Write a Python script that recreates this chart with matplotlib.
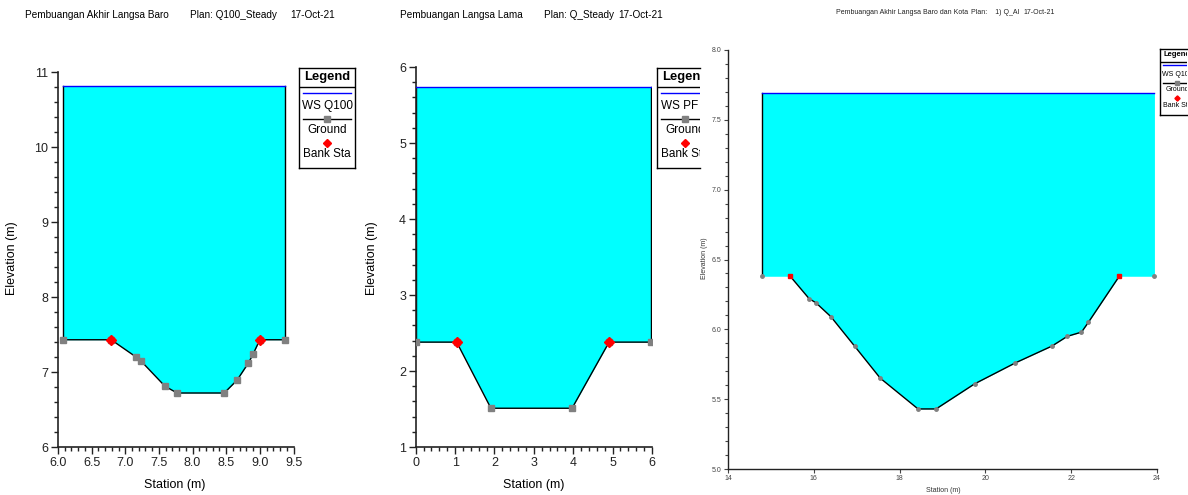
import matplotlib
matplotlib.use("Agg")
import matplotlib.pyplot as plt
from matplotlib.ticker import MultipleLocator, FormatStrFormatter

plt.rcParams['font.family'] = ['Liberation Sans', 'DejaVu Sans']

# ---------------- data ----------------
# Panel 1: Pembuangan Akhir Langsa Baro
sta1 = [6.08, 6.79, 7.16, 7.23, 7.59, 7.77, 8.47, 8.66, 8.83, 8.90, 9.00, 9.38]
gnd1 = [7.43, 7.43, 7.20, 7.15, 6.81, 6.72, 6.72, 6.89, 7.12, 7.24, 7.43, 7.43]
bank1 = [1, 10]
ws1 = 10.81

# Panel 2: Pembuangan Langsa Lama
sta2 = [0.0, 1.04, 1.91, 3.97, 4.91, 5.98]
gnd2 = [2.38, 2.38, 1.51, 1.51, 2.38, 2.38]
bank2 = [1, 4]
ws2 = 5.74

# Panel 3: Pembuangan Akhir Langsa Baro dan Kota
sta3 = [14.79, 15.45, 15.89, 16.05, 16.40, 16.95, 17.55, 18.43, 18.85,
        19.75, 20.70, 21.55, 21.91, 22.24, 22.40, 23.12, 23.94]
gnd3 = [6.38, 6.38, 6.22, 6.19, 6.09, 5.88, 5.65, 5.43, 5.43,
        5.61, 5.76, 5.88, 5.95, 5.98, 6.05, 6.38, 6.38]
bank3 = [1, 15]
ws3 = 7.69

# title pieces: (river/reach, plan, date)
titles = [("Pembuangan Akhir Langsa Baro", "Plan: Q100_Steady", "17-Oct-21"),
          ("Pembuangan Langsa Lama", "Plan: Q_Steady", "17-Oct-21"),
          ("Pembuangan Akhir Langsa Baro dan Kota", "Plan:    1) Q_Al", "17-Oct-21")]
ws_names = ["WS Q100", "WS PF 1", "WS Q100"]

W, H = 1188, 495
fig = plt.figure(figsize=(W / 100, H / 100), dpi=100)


def px_axes(x0, x1, y_top, y_bot):
    return fig.add_axes([x0 / W, 1 - y_bot / H, (x1 - x0) / W, (y_bot - y_top) / H])


def ftext(x, y, s, **kw):
    return fig.text(x / W, 1 - y / H, s, **kw)


def draw_section(ax, sta, gnd, bank, ws, big=True, left_edge_only=False):
    ax.fill_between(sta, gnd, ws, color='#00FFFF', lw=0, zorder=1)
    ax.plot([sta[0], sta[0]], [gnd[0], ws], color='black', lw=1.0, zorder=2)
    if not left_edge_only:
        ax.plot([sta[-1], sta[-1]], [gnd[-1], ws], color='black', lw=1.0, zorder=2)
    ax.plot([sta[0], sta[-1]], [ws, ws], color='#0000FF', lw=1.0, zorder=3)
    if big:
        ax.plot(sta, gnd, color='black', lw=1.0, zorder=4)
        ax.plot(sta, gnd, 's', color='#808080', ms=4.5, zorder=5)
        ax.plot([sta[i] for i in bank], [gnd[i] for i in bank], 'D',
                color='red', ms=5, zorder=6)
    else:
        b0, b1 = bank
        ax.plot(sta[b0:b1 + 1], gnd[b0:b1 + 1], color='black', lw=1.0, zorder=4)
        ax.plot(sta, gnd, 'o', color='#808080', ms=2.5, zorder=5)
        ax.plot([sta[i] for i in bank], [gnd[i] for i in bank], 's',
                color='red', ms=3, zorder=6)
    for s in ['top', 'right']:
        ax.spines[s].set_visible(False)
    for s in ['left', 'bottom']:
        ax.spines[s].set_linewidth(1.2)
        ax.spines[s].set_color('#222222')


def draw_legend(lax, ws_name, fs, full_w, vis_w=None):
    lax.set_xlim(0, full_w if vis_w is None else vis_w)
    lax.set_ylim(100, 0)
    lax.set_xticks([])
    lax.set_yticks([])
    for s in lax.spines.values():
        s.set_linewidth(1.0)
    if vis_w is not None:
        lax.spines['right'].set_visible(False)
    c = full_w / 2

    def txt(y, s, size, **kw):
        t = lax.text(c, y, s, ha='center', va='center', fontsize=size, clip_on=True, **kw)
        t.set_clip_path(lax.patch)

    txt(9, "Legend", fs * 1.1, fontweight='bold')
    lax.axhline(19, color='black', lw=1.0)
    lax.plot([full_w * 0.08, full_w * 0.92], [25, 25], color='#0000FF', lw=1.0, clip_on=True)
    txt(38, ws_name, fs)
    lax.plot([full_w * 0.08, full_w * 0.92], [51, 51], color='black', lw=1.0, clip_on=True)
    lax.plot([c], [51], 's', color='#808080', ms=4 * fs / 8.5, clip_on=True)
    txt(62, "Ground", fs)
    lax.plot([c], [75], 'D', color='red', ms=4.5 * fs / 8.5, clip_on=True)
    txt(86, "Bank Sta", fs)


# ---------------- panel 1 ----------------
ax1 = px_axes(58, 293.5, 72, 447)
draw_section(ax1, sta1, gnd1, bank1, ws1)
ax1.set_xlim(6.0, 9.5)
ax1.set_ylim(6, 11)
ax1.xaxis.set_major_locator(MultipleLocator(0.5))
ax1.xaxis.set_minor_locator(MultipleLocator(0.1))
ax1.xaxis.set_major_formatter(FormatStrFormatter('%.1f'))
ax1.yaxis.set_major_locator(MultipleLocator(1))
ax1.yaxis.set_minor_locator(MultipleLocator(0.2))

# ---------------- panel 2 ----------------
ax2 = px_axes(415.7, 652, 67, 447)
draw_section(ax2, sta2, gnd2, bank2, ws2)
ax2.set_xlim(0, 6)
ax2.set_ylim(1, 6)
ax2.xaxis.set_major_locator(MultipleLocator(1))
ax2.xaxis.set_minor_locator(MultipleLocator(0.2))
ax2.yaxis.set_major_locator(MultipleLocator(1))
ax2.yaxis.set_minor_locator(MultipleLocator(0.2))

for ax in [ax1, ax2]:
    ax.tick_params(which='major', length=5, width=1.0, labelsize=9, colors='#222222', pad=2)
    ax.tick_params(which='minor', length=3, width=1.0, colors='#222222')

# axis labels
ftext(175, 485, "Station (m)", fontsize=9, ha='center', va='center')
ftext(12, 258, "Elevation (m)", fontsize=9, ha='center', va='center', rotation=90)
ftext(534, 485, "Station (m)", fontsize=9, ha='center', va='center')
ftext(372, 258, "Elevation (m)", fontsize=9, ha='center', va='center', rotation=90)

# titles
ftext(25, 15, titles[0][0], fontsize=7.2, va='center', ha='left')
ftext(190, 15, titles[0][1], fontsize=7.2, va='center', ha='left')
ftext(290, 15, titles[0][2], fontsize=7.2, va='center', ha='left')
ftext(400, 15, titles[1][0], fontsize=7.2, va='center', ha='left')
ftext(544, 15, titles[1][1], fontsize=7.2, va='center', ha='left')
ftext(618, 15, titles[1][2], fontsize=7.2, va='center', ha='left')

# ---------------- panel 3 ----------------
ax3 = px_axes(728, 1157, 50, 469)
draw_section(ax3, sta3, gnd3, bank3, ws3, big=False, left_edge_only=True)
ax3.set_xlim(14, 24)
ax3.set_ylim(5.0, 8.0)
ax3.xaxis.set_major_locator(MultipleLocator(2))
ax3.yaxis.set_major_locator(MultipleLocator(0.5))
ax3.yaxis.set_minor_locator(MultipleLocator(0.1))
ax3.yaxis.set_major_formatter(FormatStrFormatter('%.1f'))
ax3.tick_params(which='major', length=3, width=0.8, labelsize=5, colors='#444444', pad=1.5)
ax3.tick_params(which='minor', length=2, width=0.8, colors='#444444')
for s in ['left', 'bottom']:
    ax3.spines[s].set_linewidth(1.0)
ftext(943, 490, "Station (m)", fontsize=5, ha='center', va='center', color='#333333')
ftext(705, 258, "Elevation (m)", fontsize=5, ha='center', va='center', rotation=90,
      color='#333333')
ftext(836, 13, titles[2][0], fontsize=5, va='center', ha='left', color='#222222')
ftext(971, 13, titles[2][1], fontsize=5, va='center', ha='left', color='#222222')
ftext(1023, 13, titles[2][2], fontsize=5, va='center', ha='left', color='#222222')

# ---------------- legends ----------------
lax1 = px_axes(299, 355, 68, 168)
draw_legend(lax1, ws_names[0], 8.5, 56)

lax2 = px_axes(657, 700, 68, 168)
draw_legend(lax2, ws_names[1], 8.5, 56, vis_w=43)

lax3 = px_axes(1160, 1187, 49, 115)
draw_legend(lax3, ws_names[2], 5, 34, vis_w=27)

fig.savefig("out.png", dpi=100)
